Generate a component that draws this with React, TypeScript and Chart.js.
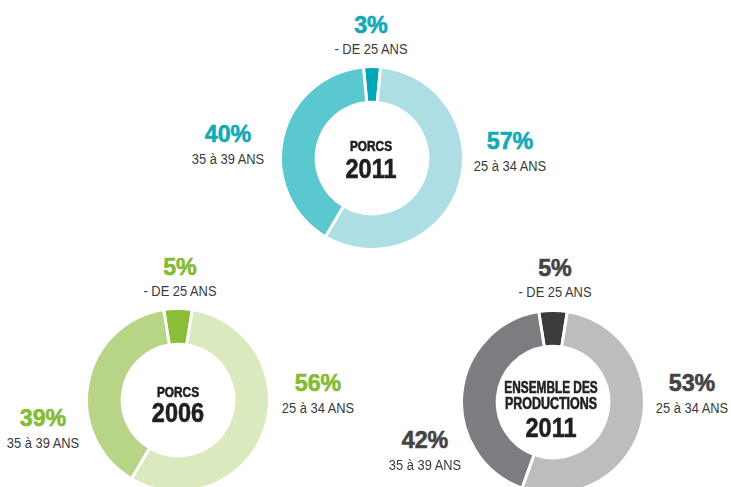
import React, { useEffect, useRef } from "react";
import { Chart, registerables } from "chart.js";

Chart.register(...registerables);

const ageGroups = ["- DE 25 ANS", "25 à 34 ANS", "35 à 39 ANS"];
const porcs2011 = [3, 57, 40];
const porcs2006 = [5, 56, 39];
const ensemble2011 = [5, 53, 42];

const tealColors = ["#00a8b4", "#addee3", "#5bc7cf"];
const greenColors = ["#8bbd37", "#dbe9bf", "#b8d487"];
const grayColors = ["#3b3b3c", "#bcbdbf", "#7c7d80"];

const FONT = '"Liberation Sans", Arial, sans-serif';
const SIZE = 186;

type DonutProps = {
  values: number[];
  colors: string[];
  cx: number;
  cy: number;
};

function Donut({ values, colors, cx, cy }: DonutProps) {
  const ref = useRef<HTMLCanvasElement | null>(null);
  useEffect(() => {
    if (!ref.current) return;
    const chart = new Chart(ref.current, {
      type: "doughnut",
      data: {
        labels: ageGroups,
        datasets: [
          {
            data: values,
            backgroundColor: colors,
            borderColor: "#ffffff",
            borderWidth: 3,
          },
        ],
      },
      options: {
        responsive: false,
        animation: false,
        cutout: "61%",
        rotation: -(values[0] / 100) * 180,
        layout: { padding: 0 },
        plugins: { legend: { display: false }, tooltip: { enabled: false } },
      },
    });
    return () => chart.destroy();
  }, [values, colors]);
  return (
    <canvas
      ref={ref}
      width={SIZE}
      height={SIZE}
      style={{ position: "absolute", left: cx - SIZE / 2, top: cy - SIZE / 2, width: SIZE, height: SIZE }}
    />
  );
}

type TextProps = {
  x: number;
  y: number;
  text: string;
  size: number;
  scale: number;
  color: string;
  bold?: boolean;
};

function Txt({ x, y, text, size, scale, color, bold }: TextProps) {
  return (
    <div
      style={{
        position: "absolute",
        left: x,
        top: y,
        transform: `translate(-50%, -50%) scaleX(${scale})`,
        fontFamily: FONT,
        fontWeight: bold ? "bold" : "normal",
        fontSize: size,
        color,
        whiteSpace: "nowrap",
        lineHeight: 1,
        WebkitTextStroke: bold ? `0.6px ${color}` : undefined,
      }}
    >
      {text}
    </div>
  );
}

type LabelProps = { x: number; y: number; pct: number; text: string; color: string };

function SliceLabel({ x, y, pct, text, color }: LabelProps) {
  return (
    <>
      <Txt x={x} y={y} text={`${pct}%`} size={24} scale={0.97} color={color} bold />
      <Txt x={x} y={y + 24.5} text={text} size={14} scale={0.92} color="#3a3a3a" />
    </>
  );
}

const DARK = "#1f1f1f";

export default function App() {
  return (
    <div
      style={{
        position: "fixed",
        left: 0,
        top: 0,
        width: 731,
        height: 487,
        background: "#ffffff",
        overflow: "hidden",
      }}
    >
      <Donut values={porcs2011} colors={tealColors} cx={372} cy={158} />
      <Donut values={porcs2006} colors={greenColors} cx={178} cy={400} />
      <Donut values={ensemble2011} colors={grayColors} cx={553} cy={402} />

      <SliceLabel x={371} y={24.5} pct={porcs2011[0]} text={ageGroups[0]} color="#12aab5" />
      <SliceLabel x={510} y={141} pct={porcs2011[1]} text={ageGroups[1]} color="#12aab5" />
      <SliceLabel x={228} y={134} pct={porcs2011[2]} text={ageGroups[2]} color="#12aab5" />
      <Txt x={371} y={145} text="PORCS" size={15} scale={0.79} color={DARK} bold />
      <Txt x={371} y={168.5} text="2011" size={27} scale={0.87} color={DARK} bold />

      <SliceLabel x={180} y={266.5} pct={porcs2006[0]} text={ageGroups[0]} color="#86bb34" />
      <SliceLabel x={318} y={383} pct={porcs2006[1]} text={ageGroups[1]} color="#86bb34" />
      <SliceLabel x={43} y={418} pct={porcs2006[2]} text={ageGroups[2]} color="#86bb34" />
      <Txt x={178} y={391} text="PORCS" size={15} scale={0.79} color={DARK} bold />
      <Txt x={178} y={413} text="2006" size={27} scale={0.87} color={DARK} bold />

      <SliceLabel x={555} y={267.5} pct={ensemble2011[0]} text={ageGroups[0]} color="#444444" />
      <SliceLabel x={692} y={383} pct={ensemble2011[1]} text={ageGroups[1]} color="#444444" />
      <SliceLabel x={425} y={440} pct={ensemble2011[2]} text={ageGroups[2]} color="#444444" />
      <Txt x={551} y={387.5} text="ENSEMBLE DES" size={16} scale={0.74} color={DARK} bold />
      <Txt x={551} y={404} text="PRODUCTIONS" size={16} scale={0.78} color={DARK} bold />
      <Txt x={551} y={427.5} text="2011" size={27} scale={0.87} color={DARK} bold />
    </div>
  );
}
